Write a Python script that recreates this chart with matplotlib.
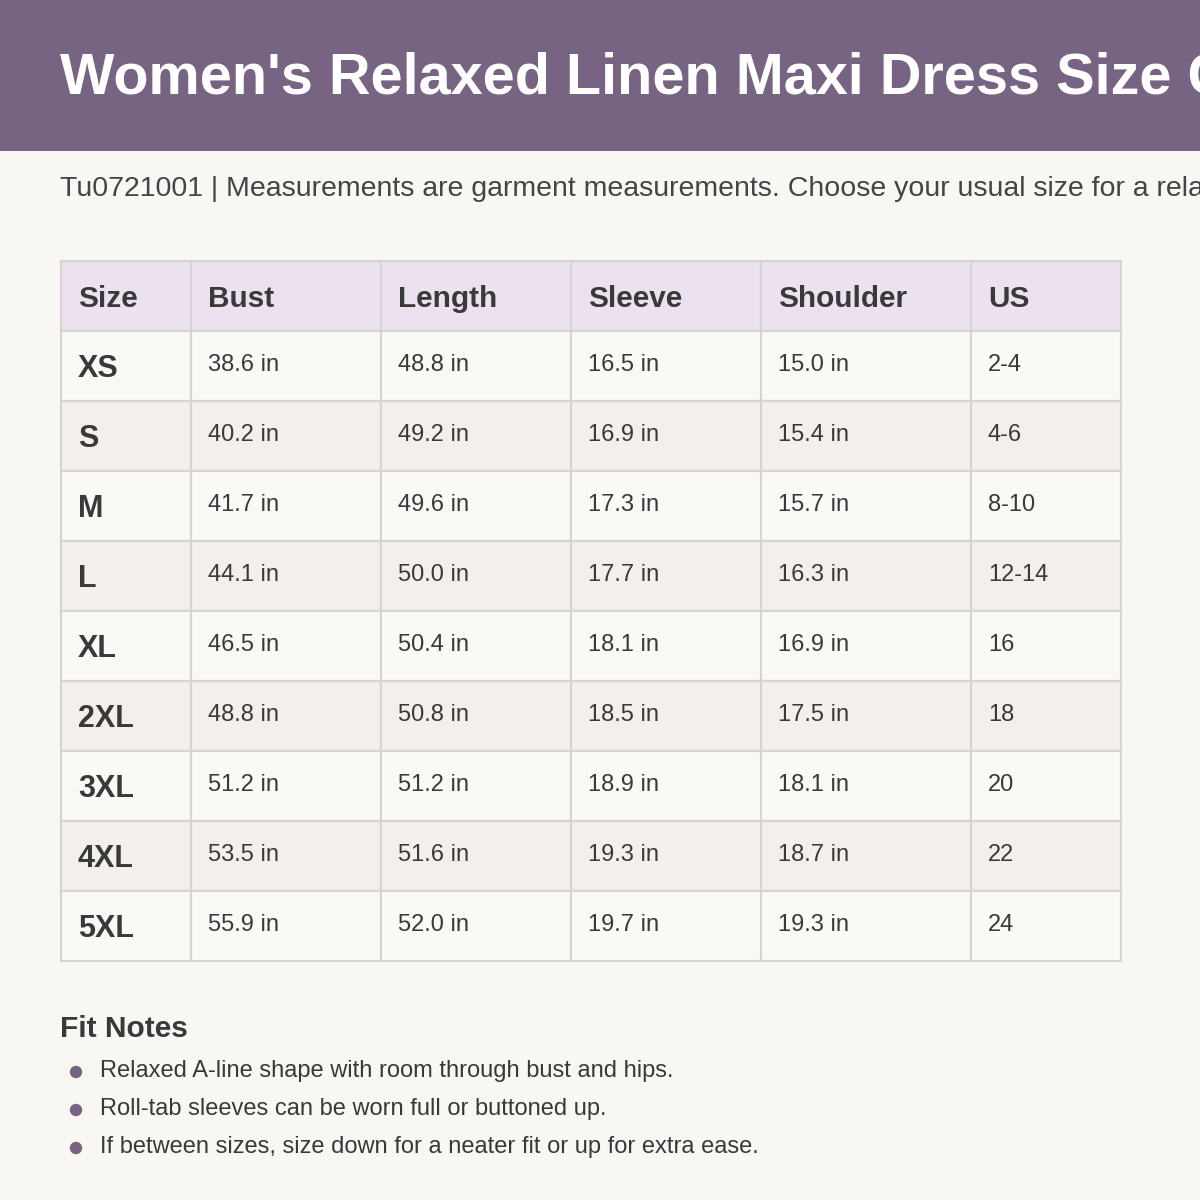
import matplotlib
matplotlib.use("Agg")
from matplotlib import pyplot as plt
from matplotlib.patches import Rectangle, Circle

title = "Women's Relaxed Linen Maxi Dress Size Chart"
subtitle = "Tu0721001 | Measurements are garment measurements. Choose your usual size for a relaxed fit."
columns = ["Size", "Bust", "Length", "Sleeve", "Shoulder", "US"]
sizes = ["XS", "S", "M", "L", "XL", "2XL", "3XL", "4XL", "5XL"]
bust = [38.6, 40.2, 41.7, 44.1, 46.5, 48.8, 51.2, 53.5, 55.9]
length = [48.8, 49.2, 49.6, 50.0, 50.4, 50.8, 51.2, 51.6, 52.0]
sleeve = [16.5, 16.9, 17.3, 17.7, 18.1, 18.5, 18.9, 19.3, 19.7]
shoulder = [15.0, 15.4, 15.7, 16.3, 16.9, 17.5, 18.1, 18.7, 19.3]
us = ["2-4", "4-6", "8-10", "12-14", "16", "18", "20", "22", "24"]
notes = [
    "Relaxed A-line shape with room through bust and hips.",
    "Roll-tab sleeves can be worn full or buttoned up.",
    "If between sizes, size down for a neater fit or up for extra ease.",
]

purple = "#776482"
text_dark = "#3a3838"
border = "#d6d4d2"

col_edges = [61, 191, 381, 571, 761, 971, 1121]
table_top = 261
row_h = 70

fig = plt.figure(figsize=(12, 12), dpi=100)
fig.patch.set_facecolor("#f8f7f3")
ax = fig.add_axes([0, 0, 1, 1])
ax.set_xlim(0, 1200)
ax.set_ylim(1200, 0)
ax.axis("off")

# header band
ax.add_patch(Rectangle((0, 0), 1200, 151, color=purple, lw=0))
ax.text(60, 79, title, color="white", fontsize=41.5, fontweight="bold",
        family="Liberation Sans", va="center", ha="left")
ax.text(60, 189, subtitle, color="#444444", fontsize=20.5,
        family="Liberation Sans", va="center", ha="left")

# table
rows = [[s, f"{b:.1f} in", f"{l:.1f} in", f"{sl:.1f} in", f"{sh:.1f} in", u]
        for s, b, l, sl, sh, u in zip(sizes, bust, length, sleeve, shoulder, us)]
all_rows = [columns] + rows
for r, row in enumerate(all_rows):
    y0 = table_top + r * row_h
    if r == 0:
        fc = "#ece1ee"
    elif r % 2 == 1:
        fc = "#faf9f6"
    else:
        fc = "#f3f0eb"
    for c, val in enumerate(row):
        x0 = col_edges[c]
        w = col_edges[c + 1] - x0
        ax.add_patch(Rectangle((x0, y0), w, row_h, facecolor=fc,
                               edgecolor=border, lw=1.5))
        if r == 0:
            ax.text(x0 + 17, y0 + 38, val, fontsize=21.4, fontweight="bold",
                    color=text_dark, family="Liberation Sans", va="center")
        elif c == 0:
            ax.text(x0 + 17, y0 + 38, val, fontsize=22, fontweight="bold",
                    color=text_dark, family="Liberation Sans", va="center")
        else:
            ax.text(x0 + 17, y0 + 34, val, fontsize=17,
                    color=text_dark, family="Liberation Sans", va="center")

# fit notes
ax.text(60, 1029, "Fit Notes", fontsize=21.5, fontweight="bold",
        color=text_dark, family="Liberation Sans", va="center")
for i, note in enumerate(notes):
    y = 1071 + i * 38
    ax.add_patch(Circle((76, y + 1), 5.5, color=purple))
    ax.text(100, y, note, fontsize=17, color=text_dark,
            family="Liberation Sans", va="center")

fig.savefig("out.png", dpi=100, facecolor=fig.get_facecolor())
